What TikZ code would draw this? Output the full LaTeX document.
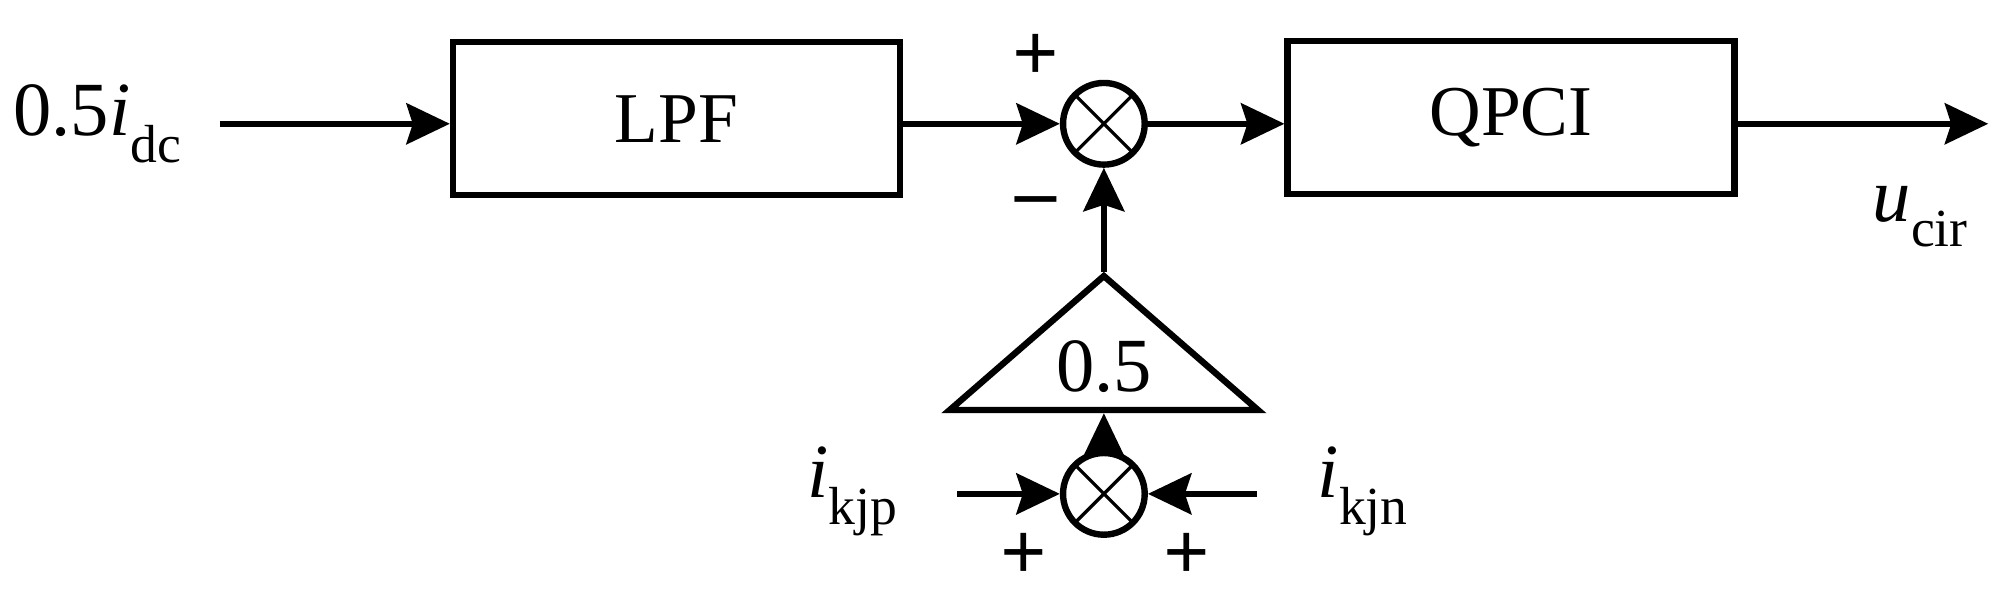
\documentclass[tikz,border=0pt]{standalone}
\usepackage{fontspec}
\setmainfont{Liberation Serif}
\usetikzlibrary{arrows.meta,positioning,shapes.geometric}
\tikzset{every picture/.style={line width=5pt}}
\tikzset{
  blk/.style={draw,minimum width=350pt,minimum height=120pt,inner sep=0pt,font=\fontsize{56}{60}\selectfont},
  sumj/.style={draw,circle,minimum size=64pt,inner sep=0pt,line width=5pt,path picture={
      \draw[line width=2.5pt] (path picture bounding box.north west) -- (path picture bounding box.south east)
        (path picture bounding box.north east) -- (path picture bounding box.south west);}},
  lbl/.style={font=\fontsize{60}{64}\selectfont,inner sep=0pt},
  sgn/.style={font=\fontsize{64}{64}\selectfont\bfseries,inner sep=0pt},
  arr/.style={-{Stealth[length=34pt,width=32pt,inset=5pt]}}
}
\begin{document}
\begin{tikzpicture}[x=1pt,y=1pt,yscale=-1]
\useasboundingbox (0,0) rectangle (1568,470);

% blocks
\node[blk] (lpf) at (530,93) {LPF};
\node[blk] (qpci) at (1184,92) {QPCI};
\node[sumj] (s1) at (865,97) {};
\node[sumj] (s2) at (865,387) {};
\node[draw,isosceles triangle,shape border rotate=90,isosceles triangle apex angle=98,
      minimum height=105pt,inner sep=0pt,anchor=apex] (gain) at (865,213) {};
\node[lbl] (k) at (865,287) {0.5};

% labels
\node[lbl,anchor=west] (idc) at (8,97) {0.5$\mathit{i}_{\mathrm{dc}}$};
\node[lbl] (ucir) at (1505,170) {$\mathit{u}_{\mathrm{cir}}$};
\node[lbl] (ikjp) at (668,385) {$\mathit{i}_{\mathrm{kjp}}$};
\node[lbl] (ikjn) at (1068,385) {$\mathit{i}_{\mathrm{kjn}}$};
\coordinate (in1) at (172,97);
\coordinate (out) at (1558,97);
\coordinate (p1) at (750,387);
\coordinate (p2) at (985,387);

% signs
\node[sgn] at (812,45) {+};
\node[sgn] at (812,163) {\textbf{--}};
\node[sgn] at (802,436) {+};
\node[sgn] at (930,436) {+};

% connectors
\draw[arr] (in1) -- (lpf.west |- in1);
\draw[arr] (lpf.east |- s1) -- (s1.west);
\draw[arr] (s1.east) -- (qpci.west |- s1);
\draw[arr] (qpci.east |- out) -- (out);
\draw[arr] (gain.apex) -- (s1.south);
\draw[arr] (s2.north) -- (gain.south);
\draw[arr] (p1) -- (s2.west);
\draw[arr] (p2) -- (s2.east);
\end{tikzpicture}
\end{document}
